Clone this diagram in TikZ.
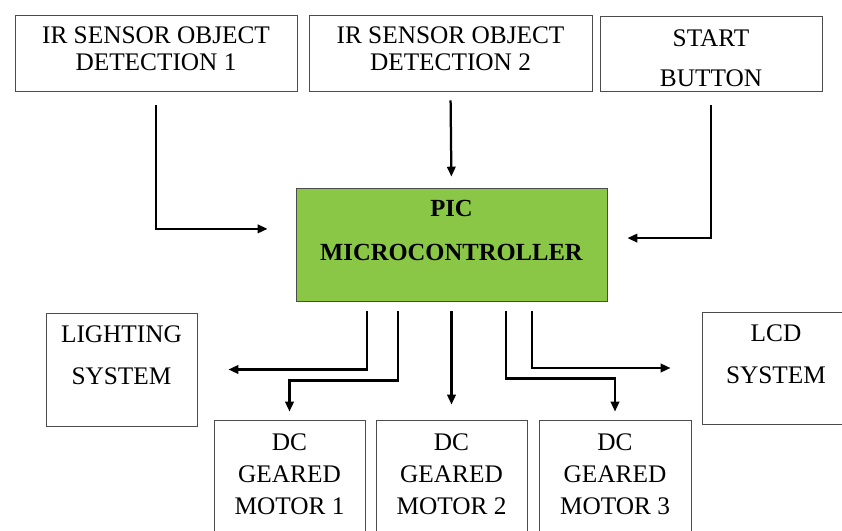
\documentclass[tikz,border=0pt]{standalone}
\usepackage{fontspec}
\setmainfont{Liberation Serif}
\usetikzlibrary{arrows.meta}
\definecolor{picgreen}{RGB}{139,199,70}

\begin{document}
\begin{tikzpicture}[x=0.025cm,y=-0.025cm,
	box/.style={draw=black!70, line width=0.6pt, align=center, inner sep=0pt,
		font=\fontsize{18}{19}\selectfont},
	wide/.style={box, minimum width=7.05cm, minimum height=1.9cm, text depth=6pt},
	small/.style={box, minimum width=3.775cm, minimum height=2.825cm,
		font=\fontsize{18}{30}\selectfont, text depth=20pt},
	motor/.style={box, minimum width=3.775cm, minimum height=2.875cm,
		font=\fontsize{18}{22.7}\selectfont, text depth=5pt}]
	\useasboundingbox (0,0) rectangle (842,531);

	\node[wide] (ir1) at (156, 53) {IR SENSOR OBJECT\\DETECTION 1};
	\node[wide, minimum width=7.075cm] (ir2) at (450.5, 53) {IR SENSOR OBJECT\\DETECTION 2};
	\node[box, minimum width=5.55cm, minimum height=1.875cm, text height=47pt,
		font=\fontsize{18}{28.5}\selectfont] (start) at (711, 53.5) {START\\BUTTON};

	\node[box, fill=picgreen, minimum width=7.775cm, minimum height=2.825cm, text depth=20pt,
		font=\fontsize{17.5}{31}\selectfont\bfseries] (pic) at (451.5, 244.5) {PIC\\MICROCONTROLLER};

	\node[small] (light) at (121.5, 369.5) {LIGHTING\\SYSTEM};
	\node[small, minimum width=3.7cm, minimum height=2.8cm] (lcd) at (776, 368) {LCD\\SYSTEM};
	\node[motor] (m1) at (289.5, 477.5) {DC\\GEARED\\MOTOR 1};
	\node[motor] (m2) at (451.5, 477.5) {DC\\GEARED\\MOTOR 2};
	\node[motor, minimum width=3.8cm] (m3) at (615, 477.5) {DC\\GEARED\\MOTOR 3};

	\begin{scope}[every path/.style={-{Triangle[length=7pt,width=6pt]}, line width=1.6pt}]
		\draw[shorten <=0.35cm, shorten >=0.7cm] (ir1.south) |- ([yshift=0.39cm]pic.west);
		\draw[shorten <=0.225cm, shorten >=0.275cm] (ir2.south) -- (pic.north);
		\draw[shorten <=0.35cm, shorten >=0.5cm] (start.south) |- ([yshift=0.16cm]pic.east);
		\draw[shorten <=0.25cm, shorten >=0.775cm] ([xshift=-2.11cm]pic.south) |- (light.east);
		\draw[shorten <=0.25cm, shorten >=0.2cm] ([xshift=-1.34cm]pic.south) -- ++(0,79) -| (m1.north);
		\draw[shorten <=0.25cm, shorten >=0.375cm] (pic.south) -- (m2.north);
		\draw[shorten <=0.25cm, shorten >=0.2cm] ([xshift=1.36cm]pic.south) -- ++(0,77) -| (m3.north);
		\draw[shorten <=0.25cm, shorten >=0.775cm] ([xshift=2.01cm]pic.south) |- (lcd.west);
	\end{scope}
\end{tikzpicture}
\end{document}
